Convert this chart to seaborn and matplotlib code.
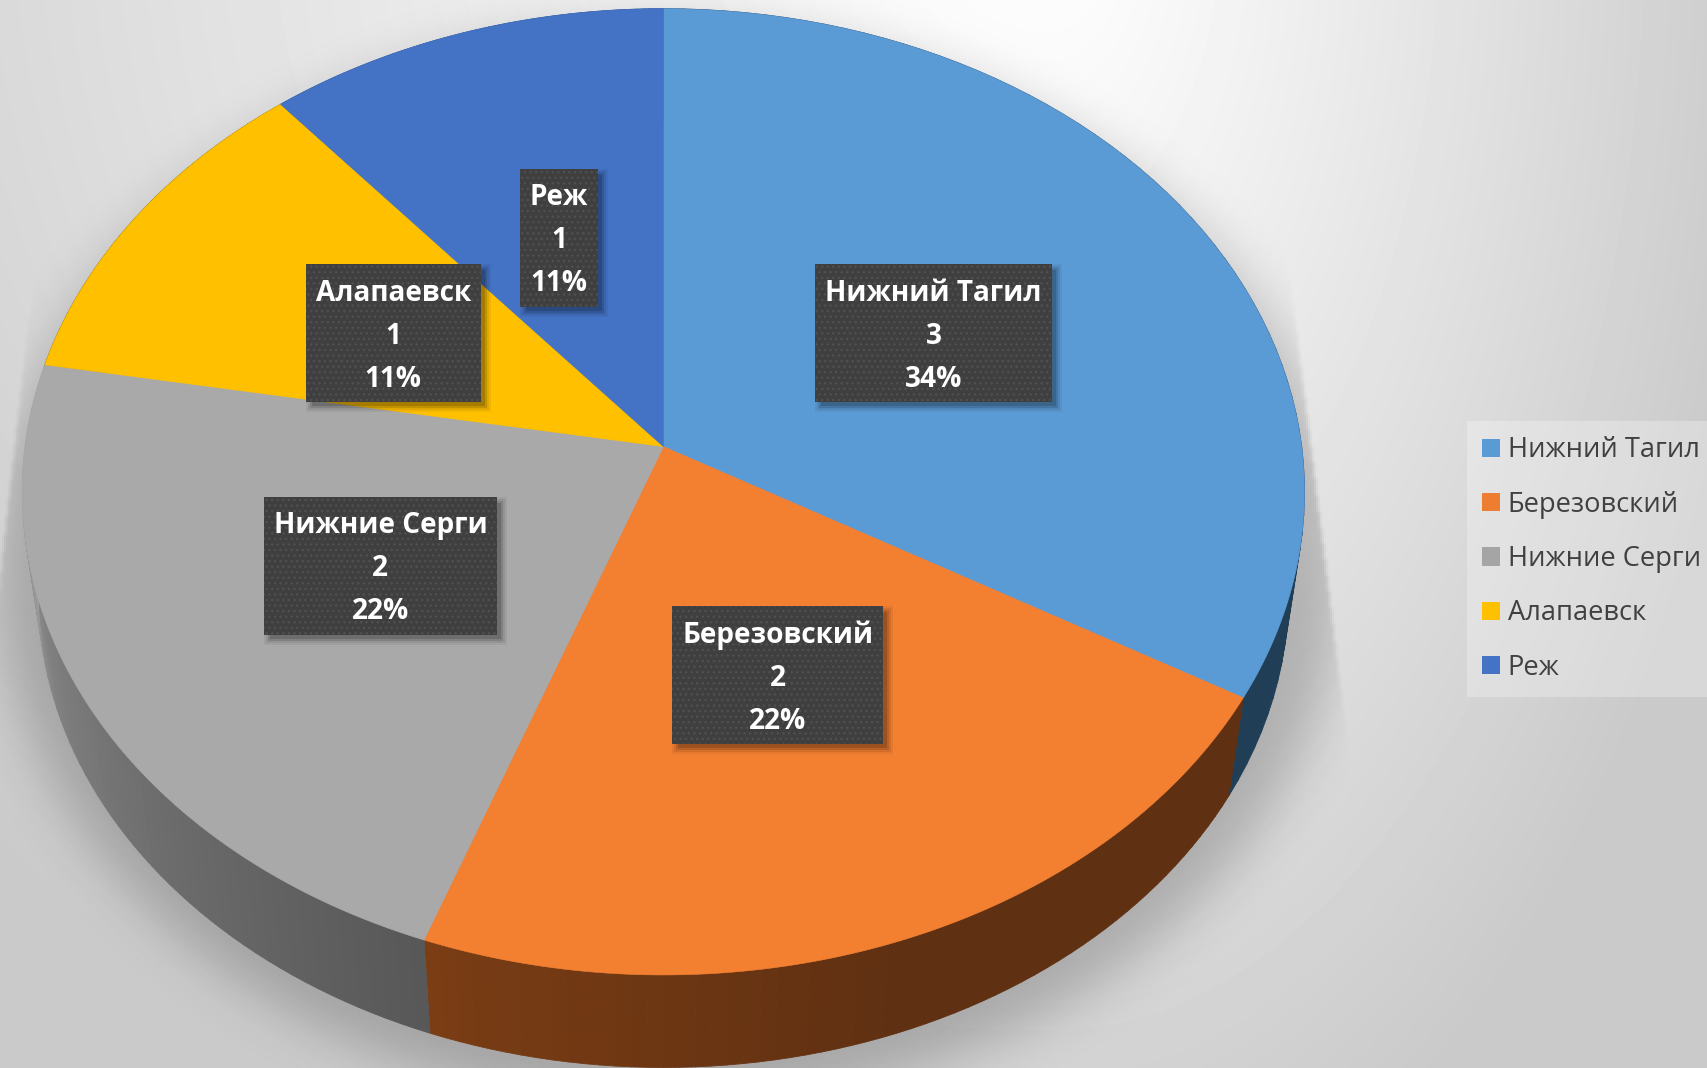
import numpy as np
import seaborn as sns
import matplotlib.pyplot as plt
from matplotlib.collections import PolyCollection
from matplotlib.colors import to_rgb
from matplotlib.patches import Patch, Polygon, Rectangle

towns = ['Нижний Тагил', 'Березовский', 'Нижние Серги', 'Алапаевск', 'Реж']
counts = [3, 2, 2, 1, 1]
percents = ['34%', '22%', '22%', '11%', '11%']
top_colors = ['#5B9BD5', '#F37F31', '#A9A9A9', '#FFC000', '#4472C4']
legend_colors = ['#5B9BD5', '#ED7D31', '#A5A5A5', '#FFC000', '#4472C4']

W, H = 1708, 1068
CX, CY, RX, RY, P = 663.4, 446.6, 638.3, 478.9, 0.0936
BOX_H = 138

sns.set_theme(style='white')
plt.rcParams['font.family'] = ['Open Sans', 'DejaVu Sans']
plt.rcParams['hatch.linewidth'] = 1.0


def project(theta, r=1.0):
    # slice angle (clockwise from top) to pixel on the tilted top face
    u, v = r * np.sin(theta), r * np.cos(theta)
    w = 1 + P * v
    return CX + RX * u / w, CY - RY * v / w


def drop(x, y):
    # same point on the lower rim of the disc
    return CX + 0.975 * (x - CX), 0.98 * y + 112


def blur(a, sigma):
    fy = np.fft.fftfreq(a.shape[0])[:, None]
    fx = np.fft.rfftfreq(a.shape[1])[None, :]
    g = np.exp(-2 * (np.pi * sigma) ** 2 * (fx ** 2 + fy ** 2))
    return np.fft.irfft2(np.fft.rfft2(a) * g, s=a.shape)


fig, ax = plt.subplots(figsize=(W / 100, H / 100), dpi=100)
fig.subplots_adjust(0, 0, 1, 1)
ax.set_xlim(0, W)
ax.set_ylim(H, 0)

# background
yy, xx = np.mgrid[0:H:2, 0:W:2]
dx = (xx - 1050) / np.where(xx < 1050, 2.0, 1.0)
dy = (yy + 100) / 1.9
d = np.hypot(dx, dy) / 665
bg = np.clip(1.0 - 0.19 * d ** 1.1, 0.79, 1)
ax.imshow(bg, cmap='gray', vmin=0, vmax=1, extent=(0, W, H, 0), zorder=0, aspect='auto')

# floor shadow
pad = 120
yy2, xx2 = np.mgrid[-pad:H + pad:2, -pad:W + pad:2]
inside = (((xx2 - 668) / 672) ** 2 + ((yy2 - 565) / 540) ** 2 < 1).astype(float)
soft = blur(inside, 13)
right_edge = 1297 + (yy2 - 340) * (1350 - 1297) / (770 - 340)
left_edge = 22 - (yy2 - 370) * 22 / 200
clip = blur(((xx2 < right_edge) & (xx2 > left_edge)).astype(float), 1.0)
alpha = 0.21 * soft * clip
rgba = np.zeros(alpha.shape + (4,))
rgba[..., 3] = alpha
ax.imshow(rgba, extent=(-pad, W + pad, H + pad, -pad), zorder=1, aspect='auto')

edges = np.radians(np.cumsum([0] + counts) / sum(counts) * 360)

# side of the disc, shaded by angle
side_stops = [
    ([0, 120], ['#213E57', '#213E57']),
    ([120, 160, 200], ['#5F3012', '#5F3012', '#7A3D14']),
    ([200, 225, 250, 265], ['#585858', '#6A6A6A', '#808080', '#A0A0A0']),
    ([280, 320], ['#7F6000', '#7F6000']),
    ([320, 360], ['#2F5597', '#2F5597']),
]
for i in range(len(counts)):
    th = np.linspace(edges[i], edges[i + 1], 61)
    x1, y1 = project(th)
    x2, y2 = drop(x1, y1)
    deg, cols = side_stops[i]
    rgb = np.array([to_rgb(c) for c in cols])
    mids = np.degrees((th[:-1] + th[1:]) / 2)
    face = np.column_stack([np.interp(mids, deg, rgb[:, k]) for k in range(3)])
    quads = [[(x1[j], y1[j]), (x1[j + 1], y1[j + 1]), (x2[j + 1], y2[j + 1]), (x2[j], y2[j])]
             for j in range(len(th) - 1)]
    ax.add_collection(PolyCollection(quads, facecolors=face, edgecolors=face, linewidths=0.6, zorder=2))

# top face
for i, col in enumerate(sns.color_palette(top_colors)):
    th = np.linspace(edges[i], edges[i + 1], 120)
    x, y = project(th)
    pts = np.column_stack([np.r_[CX, x], np.r_[CY, y]])
    ax.add_patch(Polygon(pts, closed=True, facecolor=col, edgecolor=col, linewidth=0.4, zorder=3))

# data labels, box sized on the text
renderer = fig.canvas.get_renderer()
for i, town in enumerate(towns):
    x, y = project((edges[i] + edges[i + 1]) / 2, 0.5)
    y = CY + 0.97 * (y - CY)
    t = ax.text(x, y + 3, f'{town}\n{counts[i]}\n{percents[i]}', ha='center', va='center', color='white',
                fontsize=20.2, fontweight='bold', linespacing=1.64, zorder=7)
    width = t.get_window_extent(renderer).width + 20
    left, top = x - width / 2, y - BOX_H / 2
    for grow, a in [(5, 0.05), (3, 0.08), (1, 0.12), (-1, 0.15)]:
        ax.add_patch(Rectangle((left + 5 - grow, top + 5 - grow), width + 2 * grow, BOX_H + 2 * grow,
                               facecolor='black', edgecolor='none', alpha=a, zorder=5))
    ax.add_patch(Rectangle((left, top), width, BOX_H, facecolor='#3F3F3F', edgecolor='#505050',
                           hatch='...', linewidth=0, zorder=6))

handles = [Patch(facecolor=c, edgecolor='none', label=n) for c, n in zip(legend_colors, towns)]
leg = ax.legend(handles=handles, loc='upper left', bbox_to_anchor=(1467, 421), bbox_transform=ax.transData,
                frameon=True, fancybox=False, facecolor='white', edgecolor='none', framealpha=0.28,
                fontsize=19.6, labelcolor='#404040', borderaxespad=0, borderpad=0.56, labelspacing=0.97,
                handlelength=0.66, handleheight=0.66, handletextpad=0.27)
leg.set_zorder(8)

ax.axis('off')
fig.savefig('out.png', dpi=100)
